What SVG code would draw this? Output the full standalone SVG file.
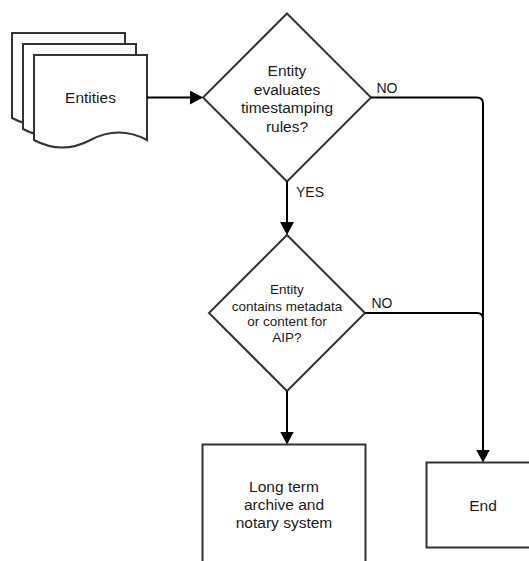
<svg xmlns="http://www.w3.org/2000/svg" width="529" height="561" viewBox="0 0 529 561">
<style>
.shape{fill:#fff;stroke:#333;stroke-width:2}
.conn{fill:none;stroke:#000;stroke-width:2}
text{font-family:"Liberation Sans",Arial,sans-serif;fill:#1a1a1a;text-anchor:middle}
.big{font-size:15.5px}
.mid{font-size:13.5px}
.lbl{font-size:14px;text-anchor:start}
</style>
<defs>
<marker id="arr" markerUnits="userSpaceOnUse" markerWidth="14" markerHeight="14" refX="11" refY="7" orient="auto">
<path d="M0,0 L13,7 L0,14 Z" fill="#000"/>
</marker>
<path id="doc" d="M0,0 H113 V85 Q84.75,70 56.5,85 Q28.25,100 0,85 Z"/>
</defs>
<rect width="529" height="561" fill="#fff"/>
<g id="entities">
<use href="#doc" class="shape" transform="translate(12,33)"/>
<use href="#doc" class="shape" transform="translate(23,44)"/>
<use href="#doc" class="shape" transform="translate(34,55)"/>
<text class="big" x="90.5" y="102.7">Entities</text>
</g>
<g id="decision1">
<polygon class="shape" points="287,13.5 371,97.5 287,181.5 203,97.5"/>
<text class="big" x="287" y="76">Entity</text>
<text class="big" x="287" y="94.6">evaluates</text>
<text class="big" x="287" y="113.2">timestamping</text>
<text class="big" x="287" y="131.8">rules?</text>
</g>
<g id="decision2">
<polygon class="shape" points="287,235 365,313 287,391 209,313"/>
<text class="mid" x="287" y="294.3">Entity</text>
<text class="mid" x="287" y="310.5">contains metadata</text>
<text class="mid" x="287" y="326.3">or content for</text>
<text class="mid" x="287" y="342">AIP?</text>
</g>
<g id="archive">
<rect class="shape" x="202.5" y="444.5" width="163" height="125"/>
<text class="big" x="284" y="492.3">Long term</text>
<text class="big" x="284" y="510.3">archive and</text>
<text class="big" x="284" y="528.3">notary system</text>
</g>
<g id="end">
<rect class="shape" x="426.5" y="462.5" width="120" height="85"/>
<text class="big" x="483" y="510.7">End</text>
</g>
<g id="connectors">
<path class="conn" d="M147,97.5 H201" marker-end="url(#arr)"/>
<path class="conn" d="M287,181.5 V233" marker-end="url(#arr)"/>
<path class="conn" d="M371,97.5 H477 Q483,97.5 483,103.5 V460.5" marker-end="url(#arr)"/>
<path class="conn" d="M365,313 H477 Q483,313 483,319"/>
<path class="conn" d="M287,391 V442.5" marker-end="url(#arr)"/>
<text class="lbl" x="376.5" y="93.3">NO</text>
<text class="lbl" x="371.5" y="308.3">NO</text>
<text class="lbl" x="296" y="196.7">YES</text>
</g>
</svg>
